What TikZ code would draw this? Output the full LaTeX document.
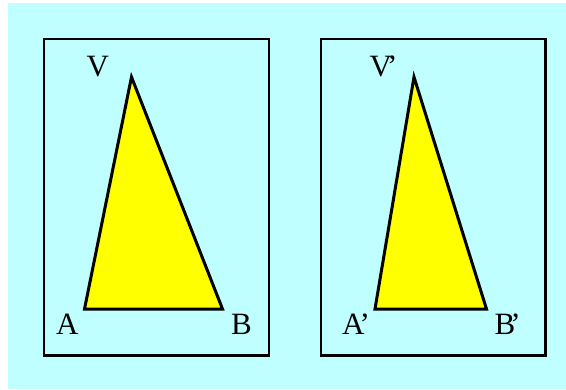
\documentclass[tikz,border=0pt]{standalone}
\usepackage{fontspec}
\setmainfont{Liberation Serif}
\definecolor{bgcyan}{HTML}{C0FFFF}
\definecolor{triyellow}{HTML}{FFFF00}
\newcommand{\pr}{\kern-5pt’}
\begin{document}
\begin{tikzpicture}[x=1pt,y=-1pt,
  frame/.style={draw=black,line width=2.4pt},
  tri/.style={draw=black,fill=triyellow,line width=3pt,line join=miter},
  lbl/.style={anchor=base west,inner sep=0pt,font=\fontsize{31}{31}\selectfont}]
\useasboundingbox (0,0) rectangle (566,389);
\fill[white] (0,0) rectangle (566,389);
\fill[bgcyan] (7.5,3) rectangle (566,389);
% boxes
\draw[frame] (44,39) rectangle (269,355.5);
\draw[frame] (321,39) rectangle (545.5,355.5);
% left triangle
\coordinate (V) at (131.5,77);
\coordinate (A) at (84.5,309);
\coordinate (B) at (222.5,309);
\draw[tri] (V) -- (B) -- (A) -- cycle;
\node[lbl] (lV) at (86.5,76.5) {V};
\node[lbl] (lA) at (56,334) {A};
\node[lbl] (lB) at (231,334) {B};
% right triangle
\coordinate (V2) at (414,77);
\coordinate (A2) at (375,309);
\coordinate (B2) at (486.5,309);
\draw[tri] (V2) -- (B2) -- (A2) -- cycle;
\node[lbl] (lV2) at (369.5,76.5) {V\pr};
\node[lbl] (lA2) at (342,334) {A\pr};
\node[lbl] (lB2) at (494.5,334) {B\pr};
\end{tikzpicture}
\end{document}
